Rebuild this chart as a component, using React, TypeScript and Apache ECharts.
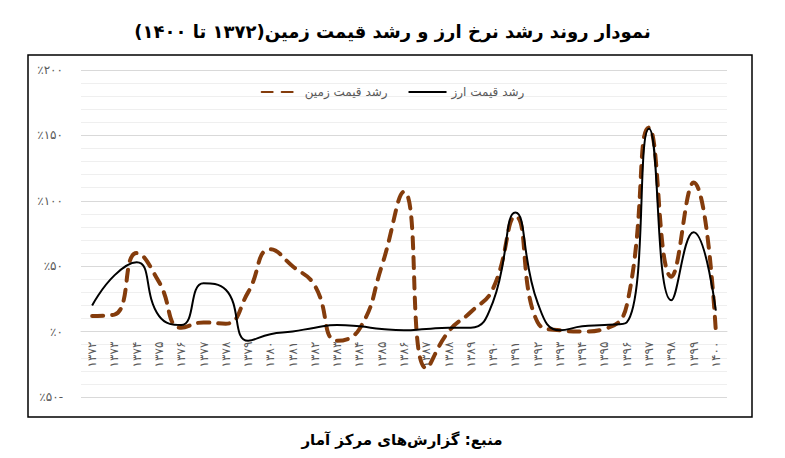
import React, { useEffect, useRef } from "react";
import * as echarts from "echarts";

const years = [
  "۱۳۷۲", "۱۳۷۳", "۱۳۷۴", "۱۳۷۵", "۱۳۷۶", "۱۳۷۷", "۱۳۷۸", "۱۳۷۹", "۱۳۸۰", "۱۳۸۱",
  "۱۳۸۲", "۱۳۸۳", "۱۳۸۴", "۱۳۸۵", "۱۳۸۶", "۱۳۸۷", "۱۳۸۸", "۱۳۸۹", "۱۳۹۰", "۱۳۹۱",
  "۱۳۹۲", "۱۳۹۳", "۱۳۹۴", "۱۳۹۵", "۱۳۹۶", "۱۳۹۷", "۱۳۹۸", "۱۳۹۹", "۱۴۰۰",
];

const landGrowth = [
  12, 13, 60, 38, 3, 7, 6, 30, 63, 50,
  35, -7, 2, 50, 107, -28, 0, 15, 33, 88,
  7, 1, 0, 2, 20, 156, 42, 114, 0,
];

const currencyGrowth = [
  20, 43, 53, 12, 5, 37, 32, -7, -2, 0,
  3, 5, 4, 2, 1, 2, 3, 3, 23, 91,
  22, 1, 4, 5, 7, 155, 24, 76, 16,
];

const yTicks = [-50, 0, 50, 100, 150, 200];
const yTickLabels = ["٪۵۰-", "٪۰", "٪۵۰", "٪۱۰۰", "٪۱۵۰", "٪۲۰۰"];

const seriesNames = ["رشد قیمت زمین", "رشد قیمت ارز"];
const titleText = "\u200Fنمودار روند رشد نرخ ارز و رشد قیمت زمین(۱۳۷۲ تا ۱۴۰۰)\u200F";
const sourceText = "\u200Fمنبع: گزارش‌های مرکز آمار\u200F";

const FONT = "'DejaVu Sans', sans-serif";

export default function App() {
  const ref = useRef<HTMLDivElement>(null);

  useEffect(() => {
    document.body.style.margin = "0";
    if (!ref.current) return;
    const chart = echarts.init(ref.current, undefined, { renderer: "svg" });
    chart.setOption({
      animation: false,
      backgroundColor: "#ffffff",
      textStyle: { fontFamily: FONT },
      title: {
        text: titleText,
        left: "center",
        top: 17,
        textStyle: { fontFamily: FONT, fontSize: 18, fontWeight: "bold", color: "#000000" },
      },
      legend: {
        data: seriesNames,
        left: "center",
        top: 81,
        itemWidth: 38,
        itemHeight: 8,
        itemGap: 20,
        itemStyle: { opacity: 0, borderWidth: 0 },
        textStyle: { fontFamily: FONT, fontSize: 12, color: "#595959" },
      },
      grid: { left: 81, right: 58, top: 70, bottom: 61, containLabel: false },
      xAxis: {
        type: "category",
        data: years,
        boundaryGap: true,
        offset: -65.4,
        axisLine: { show: true, onZero: false, lineStyle: { color: "#d9d9d9" } },
        axisTick: { show: false },
        axisLabel: {
          rotate: 90,
          margin: 10,
          fontSize: 12,
          color: "#595959",
          fontFamily: FONT,
          interval: 0,
        },
      },
      yAxis: {
        type: "value",
        min: -50,
        max: 200,
        interval: 50,
        axisLine: { show: false },
        axisTick: { show: false },
        axisLabel: {
          margin: 18,
          fontSize: 12,
          color: "#595959",
          fontFamily: FONT,
          formatter: (v: number) => {
            const i = yTicks.indexOf(v);
            return i >= 0 ? yTickLabels[i] : "";
          },
        },
        splitLine: { lineStyle: { color: "#d9d9d9", width: 1 } },
        minorTick: { show: false, splitNumber: 5 },
        minorSplitLine: { show: true, lineStyle: { color: "#efefef", width: 1 } },
      },
      series: [
        {
          name: seriesNames[0],
          type: "line",
          data: landGrowth,
          smooth: 0.5,
          symbol: "none",
          color: "#843c0c",
          lineStyle: { color: "#843c0c", width: 4, type: [11, 9], cap: "round" },
          z: 2,
        },
        {
          name: seriesNames[1],
          type: "line",
          data: currencyGrowth,
          smooth: 0.5,
          symbol: "none",
          color: "#000000",
          lineStyle: { color: "#000000", width: 2 },
          z: 3,
        },
      ],
      graphic: [
        {
          type: "rect",
          shape: { x: 28, y: 55, width: 724, height: 362 },
          style: { fill: "none", stroke: "#000000", lineWidth: 1.5 },
          silent: true,
          z: 10,
        },
        {
          type: "text",
          x: 402,
          y: 440,
          style: {
            text: sourceText,
            fontFamily: FONT,
            fontSize: 15,
            fontWeight: "bold",
            fill: "#000000",
            textAlign: "center",
            textVerticalAlign: "middle",
          },
          z: 10,
        },
      ],
    });
    return () => chart.dispose();
  }, []);

  return <div ref={ref} style={{ width: 785, height: 458 }} />;
}
